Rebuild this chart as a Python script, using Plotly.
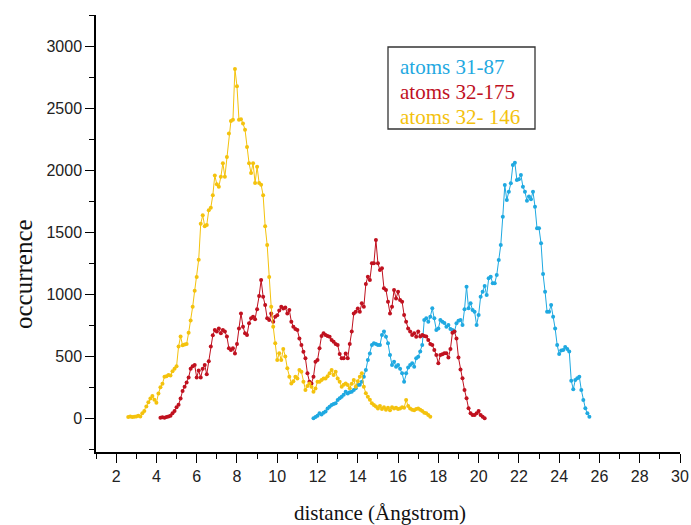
import plotly.graph_objects as go

# ---- data (bin width 0.1 Angstrom) ----
BIN = 0.1

yellow_start = 2.6
yellow_y = [10, 15, 10, 12, 15, 20, 15, 40, 60, 95,
            130, 160, 180, 150, 125, 200, 250, 280, 335, 340,
            350, 345, 380, 400, 420, 580, 660, 590, 595, 600,
            690, 790, 900, 1030, 1140, 1280, 1570, 1640, 1550, 1560,
            1680, 1700, 1800, 1960, 1890, 1870, 1950, 2060, 1950, 2110,
            2300, 2400, 2410, 2820, 2680, 2410, 2415, 2380, 2330, 2190,
            2060, 1980, 2060, 1900, 2030, 1900, 1885, 1800, 1550, 1400,
            1140, 900, 740, 605, 470, 525, 470, 560, 500, 404,
            336, 282, 300, 336, 322, 390, 376, 296, 229, 260,
            282, 255, 215, 240, 296, 296, 310, 322, 322, 340,
            363, 390, 350, 376, 322, 296, 255, 270, 282, 269,
            242, 280, 309, 255, 300, 336, 363, 255, 202, 175,
            150, 121, 107, 95, 80, 100, 75, 90, 70, 85,
            65, 90, 80, 85, 75, 80, 90, 85, 148, 100,
            80, 70, 65, 75, 80, 70, 60, 45, 40, 27,
            13]

red_start = 4.2
red_y = [5, 8, 5, 10, 15, 20, 40, 60, 90, 110,
         160, 220, 255, 290, 330, 400, 420, 430, 330, 385,
         330, 400, 430, 355, 460, 580, 670, 712, 700, 726,
         686, 712, 700, 660, 565, 551, 565, 524, 600, 726,
         847, 740, 686, 672, 767, 807, 820, 800, 880, 987,
         1117, 982, 914, 807, 793, 847, 780, 820, 833, 870,
         901, 887, 895, 847, 874, 780, 740, 720, 712, 645,
         591, 538, 484, 363, 296, 282, 336, 457, 471, 565,
         665, 686, 672, 665, 659, 632, 618, 600, 592, 520,
         484, 484, 524, 484, 600, 700, 847, 860, 887, 860,
         928, 900, 1085, 1143, 1117, 1251, 1251, 1439, 1251, 1197,
         1211, 1049, 1036, 941, 847, 901, 1036, 968, 1022, 955,
         941, 834, 780, 726, 700, 672, 686, 659, 700, 660,
         672, 665, 660, 632, 600, 591, 551, 511, 444, 511,
         517, 525, 525, 490, 560, 691, 700, 645, 490, 395,
         323, 228, 161, 81, 40, 27, 27, 40, 58, 27,
         13, 0]

blue_start = 11.8
blue_y = [0, 10, 20, 40, 30, 45, 55, 80, 94, 107,
          115, 121, 148, 161, 175, 190, 215, 200, 210, 215,
          229, 242, 269, 270, 296, 336, 390, 471, 524, 591,
          605, 600, 591, 591, 672, 700, 659, 605, 511, 430,
          457, 417, 430, 400, 363, 296, 363, 410, 430, 444,
          417, 484, 497, 540, 591, 793, 807, 780, 820, 888,
          807, 713, 726, 793, 780, 770, 740, 753, 720, 713,
          700, 767, 788, 793, 753, 880, 1063, 888, 928, 874,
          860, 753, 834, 982, 1022, 1068, 995, 1130, 1143, 1090,
          1090, 1157, 1278, 1399, 1628, 1883, 1762, 1830, 1897, 2045,
          2064, 1924, 1929, 1965, 1870, 1830, 1757, 1790, 1768, 1830,
          1708, 1534, 1534, 1413, 1165, 1022, 861, 861, 915, 820,
          726, 592, 520, 548, 552, 575, 560, 540, 304, 235,
          309, 323, 336, 228, 148, 81, 40, 13]

series_names = ["atoms 31-87", "atoms 32-175", "atoms 32- 146"]
series_colors = ["#1FA9E1", "#C0111F", "#F4C20D"]

x_ticks = list(range(2, 31, 2))
y_ticks = [0, 500, 1000, 1500, 2000, 2500, 3000]


def bins(start, n):
    return [round(start + i * BIN, 2) for i in range(n)]


fig = go.Figure()
for (start, ys), name, col in zip(
        [(blue_start, blue_y), (red_start, red_y), (yellow_start, yellow_y)],
        series_names, series_colors):
    fig.add_trace(go.Scatter(
        x=bins(start, len(ys)), y=ys, name=name, mode="lines+markers",
        line=dict(color=col, width=1),
        marker=dict(color=col, size=4),
        showlegend=False))

axis_common = dict(
    showline=True, linecolor="black", linewidth=1.5, mirror=False,
    showgrid=False, zeroline=False, ticks="outside", ticklen=9,
    tickwidth=1.3, tickcolor="black", automargin=False,
    tickfont=dict(family="Liberation Sans, Arial", size=16, color="#222"),
)

fig.update_xaxes(range=[1, 30], tickvals=x_ticks,
                 minor=dict(dtick=1, tick0=1, ticks="outside", ticklen=5,
                            tickwidth=1.2, tickcolor="black"),
                 **axis_common)
fig.update_yaxes(range=[-272, 3256], tickvals=y_ticks,
                 minor=dict(dtick=250, tick0=0, ticks="outside", ticklen=5,
                            tickwidth=1.2, tickcolor="black"),
                 **axis_common)

# plot area in pixels (for placing annotations)
L, R, T, B = 96, 11, 15, 73
PW, PH = 691 - L - R, 525 - T - B


def px(xp):
    return (xp - L) / PW


def py(yp):
    return (525 - B - yp) / PH


serif = "Liberation Serif, Times New Roman"
annotations = []
for name, col, yc in zip(series_names, series_colors, [66.5, 92, 117.5]):
    annotations.append(dict(
        text=name, xref="paper", yref="paper", x=px(398), y=py(yc),
        xanchor="left", yanchor="middle", showarrow=False,
        font=dict(family=serif, size=21, color=col)))
annotations.append(dict(
    text="occurrence", xref="paper", yref="paper", x=px(23), y=py(274),
    textangle=-90, showarrow=False, xanchor="center", yanchor="middle",
    font=dict(family=serif, size=25, color="#111")))
annotations.append(dict(
    text="distance (Ångstrom)", xref="paper", yref="paper",
    x=px(380), y=py(513), showarrow=False, xanchor="center", yanchor="middle",
    font=dict(family=serif, size=21, color="#111")))

fig.update_layout(
    width=691, height=525,
    margin=dict(l=L, r=R, t=T, b=B),
    plot_bgcolor="white", paper_bgcolor="white",
    annotations=annotations,
    shapes=[dict(type="rect", xref="paper", yref="paper",
                 x0=px(388), x1=px(535), y0=py(129), y1=py(47),
                 line=dict(color="#333", width=1.3), fillcolor="rgba(0,0,0,0)")],
)

fig.write_html("out.html")
